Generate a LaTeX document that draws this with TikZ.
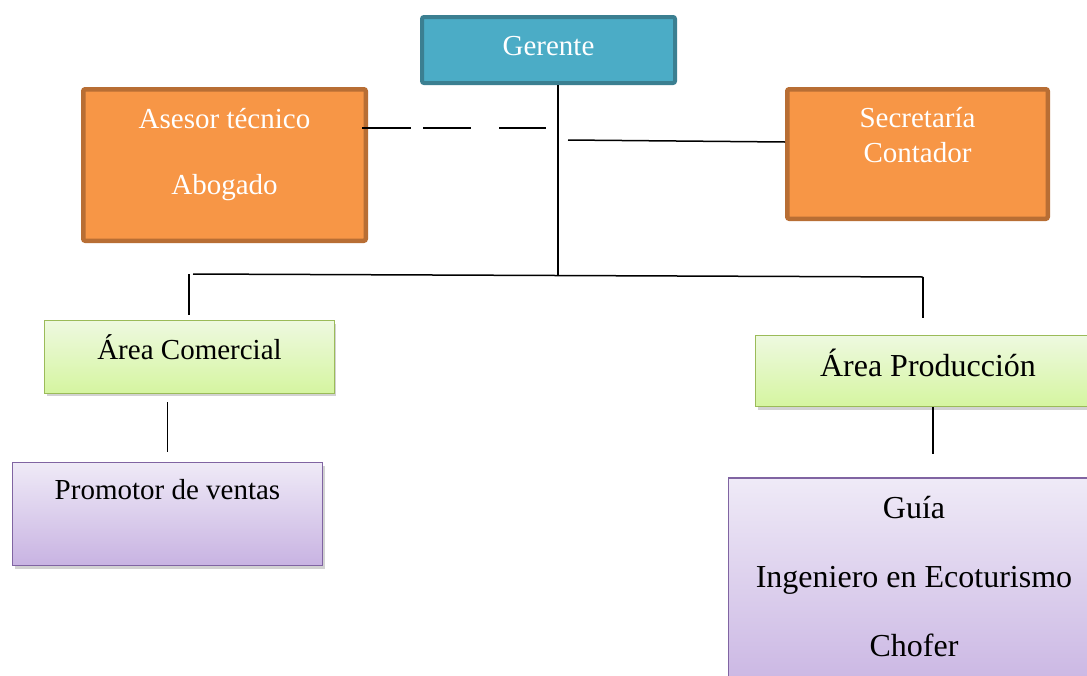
\documentclass[tikz,border=0pt]{standalone}
\usepackage{fontspec}
\setmainfont{Liberation Serif}
\usetikzlibrary{positioning, calc, shadows}

\definecolor{azulfondo}{HTML}{4BACC6}
\definecolor{azulborde}{HTML}{3B7F91}
\definecolor{naranjafondo}{HTML}{F79646}
\definecolor{naranjaborde}{HTML}{B86E34}
\definecolor{verdearriba}{HTML}{EEF9E0}
\definecolor{verdeabajo}{HTML}{D5F5A0}
\definecolor{verdeborde}{HTML}{9BBB59}
\definecolor{lilaarriba}{HTML}{EFEAF7}
\definecolor{lilaabajo}{HTML}{C8B3E2}
\definecolor{lilaborde}{HTML}{8064A2}

\begin{document}
\begin{tikzpicture}[x=1pt, y=-1pt,
    caja/.style={rectangle, rounded corners=2pt},
    gerbox/.style={caja, fill=azulfondo, draw=azulborde, line width=4pt},
    naranja/.style={caja, fill=naranjafondo, draw=naranjaborde, line width=4.5pt},
    sombra/.style={drop shadow={shadow xshift=2pt, shadow yshift=-3pt, opacity=0.35}},
    verde/.style={rectangle, sombra, top color=verdearriba, bottom color=verdeabajo, draw=verdeborde, line width=1.3pt},
    lila/.style={rectangle, sombra, top color=lilaarriba, bottom color=lilaabajo, draw=lilaborde, line width=1.3pt},
    blanco/.style={text=white, font=\fontsize{29}{35}\selectfont, align=center},
    negro/.style={text=black, font=\fontsize{29}{35}\selectfont, align=center},
    grande/.style={text=black, font=\fontsize{32}{38}\selectfont, align=center},
    linea/.style={line width=1.5pt}]
    % Marco de la imagen
    \useasboundingbox (0,0) rectangle (1087,675);
    \fill[white] (0,0) rectangle (1087,675);

    % Gerente y asesores
    \node[gerbox, minimum width=253pt, minimum height=66pt,
        label={[blanco, yshift=4pt]center:Gerente}] (gerente) at (548.5,50) {};
    \node[naranja, minimum width=282.5pt, minimum height=151.5pt,
        label={[blanco, yshift=10pt]center:{Asesor técnico\\[31pt]Abogado}}] (asesor) at (224.5,165) {};
    \node[naranja, minimum width=260.5pt, minimum height=129.5pt,
        label={[blanco, yshift=18.5pt]center:{Secretaría\\Contador}}] (secretaria) at (917.5,154) {};

    % Áreas
    \node[verde, minimum width=289.7pt, minimum height=72.7pt,
        label={[negro, yshift=10pt]center:Área Comercial}] (comercial) at (189.5,357) {};
    \node[verde, minimum width=345pt, minimum height=71pt,
        label={[grande, yshift=8pt]center:Área Producción}] (produccion) at (928,371) {};

    % Personal
    \node[lila, minimum width=310pt, minimum height=103pt,
        label={[negro, yshift=24pt]center:Promotor de ventas}] (promotor) at (167.5,514) {};
    \node[lila, minimum width=371pt, minimum height=222pt,
        label={[grande, yshift=12pt]center:{Guía\\[31pt]Ingeniero en Ecoturismo\\[31pt]Chofer}}] (operativo) at (914,589) {};

    % Puntos de unión
    \coordinate (tee) at (558,276);
    \coordinate (izq) at (189,274);
    \coordinate (der) at (923,277);
    \coordinate (secj) at (568,140);
    \coordinate (asej) at (546,128);

    % Líneas de mando
    \draw[linea] (gerente.south -| tee) -- (tee);
    \draw[linea, shorten <=4pt] (izq) -- (der);
    \draw[linea, shorten >=5pt] (izq) -- (izq |- comercial.north);
    \draw[linea, shorten >=17pt] (der) -- (der |- produccion.north);
    \draw[linea] (secj) -- ([yshift=12pt]secretaria.west);
    \draw[linea, shorten <=-6pt, dash pattern=on 49pt off 12pt on 48pt off 28pt] (asesor.east |- asej) -- (asej);
    \draw[linea, shorten <=8pt, shorten >=10pt] (comercial.south -| promotor.north) -- (promotor.north);
    \draw[linea, shorten >=23pt] ([xshift=5pt]produccion.south) -- ([xshift=5pt]produccion.south |- operativo.north);
\end{tikzpicture}
\end{document}
